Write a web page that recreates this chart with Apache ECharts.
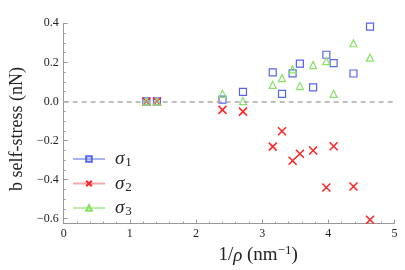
<!DOCTYPE html>
<html><head><meta charset="utf-8">
<script src="https://cdn.jsdelivr.net/npm/echarts@6/dist/echarts.min.js"></script>
<style>html,body{margin:0;padding:0;background:#fff}#c{width:405px;height:270px}</style>
</head><body><div id="c"></div>
<script>
const xValues = [1.25, 1.41, 2.40, 2.71, 3.16, 3.30, 3.46, 3.57, 3.77, 3.97, 4.08, 4.38, 4.63];
const sigma1 = [0, 0, 0.009, 0.049, 0.149, 0.039, 0.144, 0.194, 0.072, 0.239, 0.196, 0.143, 0.383];
const sigma2 = [0, 0, -0.043, -0.052, -0.231, -0.152, -0.303, -0.268, -0.251, -0.440, -0.229, -0.435, -0.605];
const sigma3 = [0, 0, 0.039, 0.002, 0.085, 0.119, 0.164, 0.079, 0.186, 0.206, 0.039, 0.298, 0.224];
const seriesNames = ['σ1', 'σ2', 'σ3'];
const yTickLabels = [-0.6, -0.4, -0.2, 0, 0.2, 0.4];
const xTickLabels = [0, 1, 2, 3, 4, 5];
const yMinorTicks = [];
for (let k = -12; k <= 8; k++) yMinorTicks.push(k * 0.05);

const SERIF = '"Liberation Serif", "DejaVu Serif", serif';
const axisGrey = '#999';
const colors = ['#5566ee', '#ff2222', '#88e066'];
const legendLine = ['#a8b4f5', '#f8a8a8', '#b8f0a8'];
const symbols = ['rect', 'path://M0,0L10,10M10,0L0,10', 'triangle'];
const symbolSizes = [7, 8, 7];
const values = [sigma1, sigma2, sigma3];

const chart = echarts.init(document.getElementById('c'), null, {renderer: 'canvas'});

const series = values.map((vals, s) => ({
  name: seriesNames[s],
  type: 'line',
  data: xValues.map((x, i) => [x, vals[i]]),
  symbol: symbols[s],
  symbolSize: symbolSizes[s],
  showSymbol: true,
  showAllSymbol: true,
  lineStyle: {width: 0, opacity: 0},
  itemStyle: {color: 'rgba(0,0,0,0)', borderColor: colors[s], borderWidth: s === 1 ? 1.5 : 1.2},
  emphasis: {disabled: true},
  z: 3,
  markLine: s === 0 ? {
    silent: true,
    symbol: ['none', 'none'],
    label: {show: false},
    lineStyle: {color: '#aaa', type: [5, 4], width: 1.5},
    emphasis: {disabled: true},
    data: [{yAxis: 0}]
  } : undefined
}));

chart.setOption({
  animation: false,
  backgroundColor: '#fff',
  grid: {left: 62, right: 10.5, top: 23.3, bottom: 42},
  legend: {
    orient: 'vertical',
    left: 72,
    top: 148.5,
    padding: 0,
    itemWidth: 32,
    itemHeight: 7,
    itemGap: 3.5,
    data: seriesNames.map((n, s) => ({name: n, lineStyle: {color: legendLine[s], width: 2, opacity: 1}})),
    formatter: n => '{s|σ}{sub|' + n.slice(1) + '}',
    textStyle: {
      rich: {
        s: {fontFamily: SERIF, fontStyle: 'italic', fontSize: 19, color: '#222', lineHeight: 20, padding: [0, 0, 0, 5]},
        sub: {fontFamily: SERIF, fontSize: 13, color: '#222', lineHeight: 20, padding: [8, 0, 0, 1]}
      }
    }
  },
  xAxis: {
    type: 'value', min: 0, max: 5, interval: 1,
    axisLine: {show: true, onZero: false, lineStyle: {color: axisGrey, width: 1}},
    axisTick: {show: true, inside: true, length: 4, lineStyle: {color: axisGrey}},
    minorTick: {show: true, splitNumber: 5, length: 2, lineStyle: {color: axisGrey}},
    splitLine: {show: false},
    axisLabel: {fontFamily: SERIF, fontSize: 12, color: '#222', margin: 4,
      customValues: xTickLabels, formatter: v => String(v)},
    name: '1/{i|ρ} (nm{sup|−1})',
    nameLocation: 'middle',
    nameGap: 16,
    nameTextStyle: {
      fontFamily: SERIF, fontSize: 19, color: '#222', padding: [0, 0, 0, 58], verticalAlign: 'top',
      rich: {
        i: {fontFamily: SERIF, fontStyle: 'italic', fontSize: 19, color: '#222'},
        sup: {fontFamily: SERIF, fontSize: 13, color: '#222', padding: [0, 0, 9, 0]}
      }
    }
  },
  yAxis: [{
    type: 'value', min: -0.625, max: 0.4,
    axisLine: {show: true, onZero: false, lineStyle: {color: axisGrey, width: 1}},
    axisTick: {show: true, inside: true, length: 4, customValues: yTickLabels, lineStyle: {color: axisGrey}},
    splitLine: {show: false},
    axisLabel: {fontFamily: SERIF, fontSize: 12, color: '#222', margin: 5,
      customValues: yTickLabels, formatter: v => v.toFixed(1).replace('-', '−')},
    name: 'b self-stress (nN)',
    nameLocation: 'middle',
    nameGap: 31,
    nameTextStyle: {fontFamily: SERIF, fontSize: 18, color: '#222', padding: [0, 11, 0, 0]}
  }, {
    type: 'value', min: -0.625, max: 0.4, position: 'left',
    axisLine: {show: false},
    axisTick: {show: true, inside: true, length: 2, customValues: yMinorTicks, lineStyle: {color: axisGrey}},
    axisLabel: {show: false},
    splitLine: {show: false}
  }],
  series: series
});
</script></body></html>
